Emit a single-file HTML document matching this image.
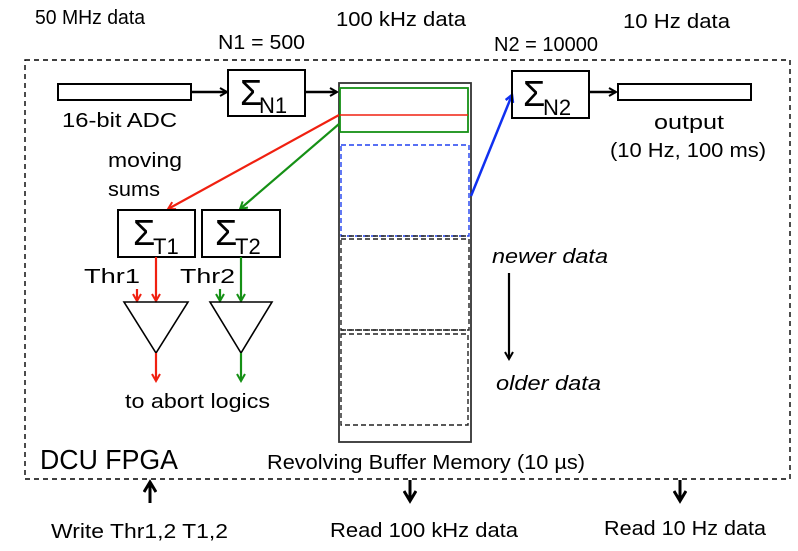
<!DOCTYPE html>
<html><head><meta charset="utf-8"><style>
html,body{margin:0;padding:0;background:#fff;}
svg{display:block;}
text{font-family:"Liberation Sans",sans-serif;fill:#000;}
</style></head><body>
<svg width="798" height="551" viewBox="0 0 798 551" xmlns="http://www.w3.org/2000/svg">
<defs>
<marker id="ak" markerWidth="10" markerHeight="10" refX="8" refY="5" orient="auto" markerUnits="userSpaceOnUse"><path d="M1,1 L8,5 L1,9" fill="none" stroke="#000" stroke-width="2"/></marker>
<marker id="ar" markerWidth="10" markerHeight="10" refX="8" refY="5" orient="auto" markerUnits="userSpaceOnUse"><path d="M1,1 L8,5 L1,9" fill="none" stroke="#f02010" stroke-width="2"/></marker>
<marker id="ag" markerWidth="10" markerHeight="10" refX="8" refY="5" orient="auto" markerUnits="userSpaceOnUse"><path d="M1,1 L8,5 L1,9" fill="none" stroke="#159015" stroke-width="2"/></marker>
<marker id="ab" markerWidth="10" markerHeight="10" refX="8" refY="5" orient="auto" markerUnits="userSpaceOnUse"><path d="M1,1 L8,5 L1,9" fill="none" stroke="#1030f0" stroke-width="2.5"/></marker>
<marker id="abig" markerWidth="14" markerHeight="14" refX="11" refY="7" orient="auto" markerUnits="userSpaceOnUse"><path d="M1,1 L11,7 L1,13" fill="none" stroke="#000" stroke-width="3"/></marker>
</defs>

<text x="35" y="24" font-size="20" textLength="110" lengthAdjust="spacingAndGlyphs">50 MHz data</text>
<text x="218" y="49" font-size="20" textLength="87" lengthAdjust="spacingAndGlyphs">N1 = 500</text>
<text x="336" y="26" font-size="20" textLength="130" lengthAdjust="spacingAndGlyphs">100 kHz data</text>
<text x="494" y="51" font-size="20" textLength="104" lengthAdjust="spacingAndGlyphs">N2 = 10000</text>
<text x="623" y="28" font-size="20" textLength="107" lengthAdjust="spacingAndGlyphs">10 Hz data</text>

<rect x="25" y="60" width="765" height="419" fill="none" stroke="#000" stroke-width="1.4" stroke-dasharray="5,4"/>

<rect x="58" y="84" width="133" height="16" fill="none" stroke="#000" stroke-width="2"/>
<text x="62" y="127" font-size="20" textLength="115" lengthAdjust="spacingAndGlyphs">16-bit ADC</text>
<line x1="191" y1="92" x2="227" y2="92" stroke="#000" stroke-width="2.5" marker-end="url(#ak)"/>
<rect x="228" y="70" width="77" height="46" fill="none" stroke="#000" stroke-width="2"/>
<text x="240" y="105" font-size="36">Σ</text><text x="259" y="113" font-size="22">N1</text>
<line x1="305" y1="92" x2="337" y2="92" stroke="#000" stroke-width="2.5" marker-end="url(#ak)"/>

<rect x="339" y="83" width="132" height="359" fill="none" stroke="#333" stroke-width="1.8"/>
<rect x="340" y="88" width="128" height="44" fill="none" stroke="#159015" stroke-width="1.8"/>
<line x1="340" y1="115" x2="468" y2="115" stroke="#f02010" stroke-width="1.4"/>
<rect x="341" y="145" width="128" height="91" fill="none" stroke="#2040f0" stroke-width="1.4" stroke-dasharray="5,3"/>
<rect x="341" y="239" width="128" height="91" fill="none" stroke="#222" stroke-width="1.4" stroke-dasharray="5,3"/>
<rect x="341" y="334" width="127" height="91" fill="none" stroke="#222" stroke-width="1.4" stroke-dasharray="5,3"/>
<line x1="341" y1="236" x2="469" y2="236" stroke="#222" stroke-width="1.4" stroke-dasharray="5,3"/>
<line x1="341" y1="330" x2="469" y2="330" stroke="#222" stroke-width="1.4" stroke-dasharray="5,3"/>

<line x1="471" y1="196" x2="512" y2="95" stroke="#1030f0" stroke-width="2.5" marker-end="url(#ab)"/>
<rect x="512" y="71" width="77" height="47" fill="none" stroke="#000" stroke-width="2"/>
<text x="523" y="106" font-size="36">Σ</text><text x="543" y="115" font-size="22">N2</text>
<line x1="589" y1="92" x2="616" y2="92" stroke="#000" stroke-width="2.5" marker-end="url(#ak)"/>
<rect x="618" y="84" width="133" height="16" fill="none" stroke="#000" stroke-width="2"/>
<text x="654" y="129" font-size="20" textLength="70" lengthAdjust="spacingAndGlyphs">output</text>
<text x="610" y="157" font-size="20" textLength="156" lengthAdjust="spacingAndGlyphs">(10 Hz, 100 ms)</text>

<text x="108" y="167" font-size="20" textLength="74" lengthAdjust="spacingAndGlyphs">moving</text>
<text x="108" y="196" font-size="20" textLength="52" lengthAdjust="spacingAndGlyphs">sums</text>
<line x1="339" y1="115" x2="168" y2="209" stroke="#f02010" stroke-width="2.2" marker-end="url(#ar)"/>
<line x1="339" y1="124" x2="240" y2="209" stroke="#159015" stroke-width="2.2" marker-end="url(#ag)"/>

<rect x="118" y="210" width="77" height="47" fill="none" stroke="#000" stroke-width="2"/>
<text x="133" y="245" font-size="36">Σ</text><text x="153" y="254" font-size="22">T1</text>
<rect x="202" y="210" width="78" height="47" fill="none" stroke="#000" stroke-width="2"/>
<text x="215" y="245" font-size="36">Σ</text><text x="235" y="254" font-size="22">T2</text>

<text x="84" y="283" font-size="20" textLength="56" lengthAdjust="spacingAndGlyphs">Thr1</text>
<text x="180" y="283" font-size="20" textLength="55" lengthAdjust="spacingAndGlyphs">Thr2</text>

<line x1="156" y1="257" x2="156" y2="301" stroke="#f02010" stroke-width="2.2" marker-end="url(#ar)"/>
<line x1="137" y1="289" x2="137" y2="301" stroke="#f02010" stroke-width="2.2" marker-end="url(#ar)"/>
<line x1="241" y1="257" x2="241" y2="301" stroke="#159015" stroke-width="2.2" marker-end="url(#ag)"/>
<line x1="220" y1="289" x2="220" y2="301" stroke="#159015" stroke-width="2.2" marker-end="url(#ag)"/>

<polygon points="124,302 188,302 156,353" fill="none" stroke="#000" stroke-width="1.6"/>
<polygon points="210,302 272,302 241,353" fill="none" stroke="#000" stroke-width="1.6"/>
<line x1="156" y1="353" x2="156" y2="381" stroke="#f02010" stroke-width="2.2" marker-end="url(#ar)"/>
<line x1="241" y1="353" x2="241" y2="381" stroke="#159015" stroke-width="2.2" marker-end="url(#ag)"/>
<text x="125" y="408" font-size="20" textLength="145" lengthAdjust="spacingAndGlyphs">to abort logics</text>

<text x="492" y="263" font-size="20" font-style="italic" textLength="116" lengthAdjust="spacingAndGlyphs">newer data</text>
<line x1="509" y1="273" x2="509" y2="359" stroke="#000" stroke-width="2.2" marker-end="url(#ak)"/>
<text x="496" y="390" font-size="20" font-style="italic" textLength="105" lengthAdjust="spacingAndGlyphs">older data</text>

<text x="40" y="469" font-size="28" textLength="138" lengthAdjust="spacingAndGlyphs">DCU FPGA</text>
<text x="267" y="469" font-size="20" textLength="318" lengthAdjust="spacingAndGlyphs">Revolving Buffer Memory (10 µs)</text>

<line x1="150" y1="503" x2="150" y2="482" stroke="#000" stroke-width="3" marker-end="url(#abig)"/>
<line x1="410" y1="480" x2="410" y2="501" stroke="#000" stroke-width="3" marker-end="url(#abig)"/>
<line x1="680" y1="480" x2="680" y2="501" stroke="#000" stroke-width="3" marker-end="url(#abig)"/>
<text x="51" y="538" font-size="20" textLength="177" lengthAdjust="spacingAndGlyphs">Write Thr1,2 T1,2</text>
<text x="330" y="537" font-size="20" textLength="188" lengthAdjust="spacingAndGlyphs">Read 100 kHz data</text>
<text x="604" y="535" font-size="20" textLength="162" lengthAdjust="spacingAndGlyphs">Read 10 Hz data</text>
</svg>
</body></html>
